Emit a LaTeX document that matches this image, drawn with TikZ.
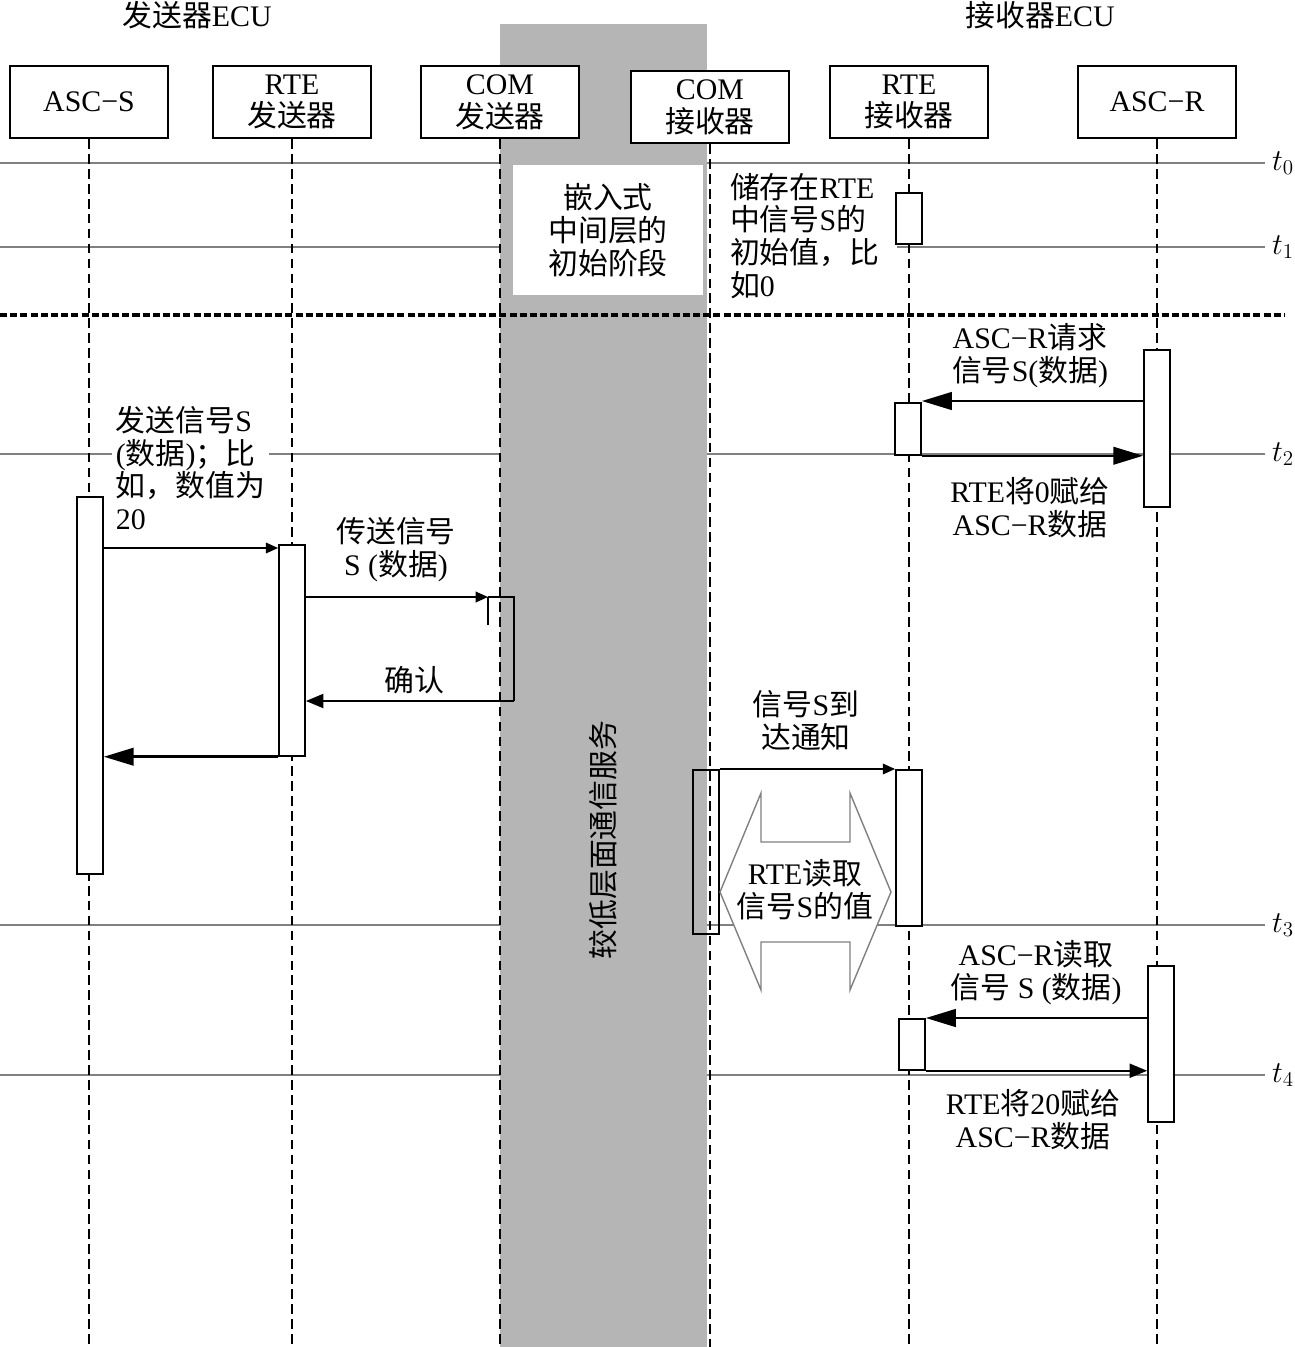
\documentclass[tikz,border=0pt]{standalone}
\usepackage{fontspec}
\setmainfont{Liberation Serif}
\newfontfamily\cjk{Noto Sans CJK SC}
\usetikzlibrary{arrows.meta}

\newcommand{\zh}[1]{{\cjk #1}}
\definecolor{bandgray}{gray}{0.71}
\definecolor{linegray}{gray}{0.5}

\begin{document}
\begin{tikzpicture}[x=0.02cm, y=-0.02cm,
  every node/.style={font=\fontsize{17}{18.7}\selectfont},
  head/.style={draw, line width=1.3pt, fill=white, minimum width=3.16cm,
    minimum height=1.44cm, align=center, inner sep=0pt},
  act/.style={draw, line width=1pt, fill=white, minimum width=0.52cm,
    anchor=north, inner sep=0pt},
  life/.style={line width=1.2pt, dash pattern=on 5.5pt off 3pt},
  tline/.style={linegray, line width=1.6pt},
  small/.style={line width=1pt, -{Triangle[length=7pt,width=6pt]}},
  mid/.style={line width=1.2pt, -{Triangle[length=10pt,width=8pt]}},
  big/.style={line width=1.4pt, -{Triangle[length=17pt,width=10pt]}},
  note/.style={align=center, inner sep=1pt}]
  \useasboundingbox (0,0) rectangle (1295,1347);

  % lower layer band
  \fill[bandgray] (500,24) rectangle (707,1347);
  \node[fill=white, minimum width=3.8cm, minimum height=2.62cm, align=center,
    inner sep=0pt] (initphase) at (608,230)
    {\zh{嵌入式}\\\zh{中间层的}\\\zh{初始阶段}};
  \node[rotate=90] (lowerlayer) at (603,840) {\zh{较低层面通信服务}};

  % time lines
  \foreach \y/\i/\x in {163/0/707, 247/1/897, 454/2/707, 925/3/707, 1075/4/707} {
    \draw[tline] (0,\y) -- (500,\y);
    \draw[tline] (\x,\y) -- (1265,\y);
    \node (t\i) at (1283,\y) {$t_\i$};
  }
  \draw[line width=2pt, dash pattern=on 4pt off 1.8pt] (0,315) -- (1285,315);

  % ECUs and lifelines
  \node (sendecu) at (197,15) {\zh{发送器}ECU};
  \node (recvecu) at (1040,15) {\zh{接收器}ECU};

  \node[head] (ascs) at (89,102) {ASC−S};
  \node[head] (rtes) at (292,102) {RTE\\\zh{发送器}};
  \node[head] (coms) at (500,102) {COM\\\zh{发送器}};
  \node[head] (comr) at (710,107) {COM\\\zh{接收器}};
  \node[head] (rter) at (909,102) {RTE\\\zh{接收器}};
  \node[head] (ascr) at (1157,102) {ASC−R};

  \foreach \n in {ascs,rtes,coms,comr,rter,ascr}
    \draw[life] (\n.south) -- (\n.south |- 0,1347);

  % activations
  \node[act, minimum height=7.54cm] (ascsact) at (90,496) {};
  \node[act, minimum height=4.22cm] (rtesact) at (292,544) {};
  \node[act, minimum height=1.02cm] (rterinit) at (909,192) {};
  \node[act, minimum height=1.04cm] (rterreq) at (908,402) {};
  \node[act, minimum height=3.14cm] (ascrreq) at (1157,349) {};
  \node[act, fill=none, minimum height=3.28cm] (comract) at (706,769) {};
  \node[act, minimum height=3.12cm] (rterread) at (909,769) {};
  \node[act, minimum height=3.12cm] (ascrread) at (1161,965) {};
  \node[act, minimum height=1.02cm] (rterget) at (912,1018) {};

  % initial value
  \node[align=left, anchor=west, inner sep=1pt] (initval) at (728,236)
    {\zh{储存在}RTE\\\zh{中信号}S\zh{的}\\\zh{初始值，比}\\\zh{如}0};

  % sender side
  \draw[small] (ascsact.east |- 0,548) -- (rtesact.west |- 0,548);
  \node[align=left, anchor=west, fill=white, inner sep=2pt] (sendlbl) at (112,468)
    {\zh{发送信号}S\\(\zh{数据})\zh{；比}\\\zh{如，数值为}\\20};

  \coordinate (comsin) at (514,597);
  \coordinate (comsout) at (514,701);
  \coordinate (comstick) at (488,597);
  \draw[small] (rtesact.east |- comsin) -- (comstick);
  \draw[line width=1pt] (comstick) -- ++(0,28);
  \draw[line width=1.2pt] (comstick) -- (comsin) -- (comsout);
  \draw[mid] (comsout) -- (rtesact.east |- comsout);
  \node[note] (translbl) at (396,550) {\zh{传送信号}\\S (\zh{数据})};
  \node[note] (acklbl) at (414,680) {\zh{确认}};

  \draw[big] (rtesact.south west) -- (ascsact.east |- rtesact.south);

  % receiver side, first request
  \draw[big] (ascrreq.west |- 0,401) -- (rterreq.east |- 0,401);
  \draw[big] (rterreq.south east) -- (ascrreq.west |- rterreq.south);
  \node[note] (reqlbl) at (1030,356) {ASC−R\zh{请求}\\\zh{信号}S(\zh{数据})};
  \node[note] (zerolbl) at (1030,508) {RTE\zh{将}0\zh{赋给}\\ASC−R\zh{数据}};

  % signal arrives
  \draw[small] (comract.north east) -- (rterread.north west);
  \node[note] (arrlbl) at (806,721) {\zh{信号}S\zh{到}\\\zh{达通知}};
  \draw[gray, line width=0.8pt, fill=white]
    (720,892) -- (761,793) -- (761,842) -- (850,842) -- (850,793) -- (891,892)
    -- (850,990) -- (850,942) -- (761,942) -- (761,990) -- cycle;
  \node[note] (readlbl) at (805,890) {RTE\zh{读取}\\\zh{信号}S\zh{的值}};

  % receiver side, second request
  \draw[big] (ascrread.west |- 0,1018) -- (rterget.north east);
  \draw[mid] (rterget.south east) -- (ascrread.west |- rterget.south);
  \node[note] (readreq) at (1036,973) {ASC−R\zh{读取}\\\zh{信号} S (\zh{数据})};
  \node[note] (twentylbl) at (1033,1120) {RTE\zh{将}20\zh{赋给}\\ASC−R\zh{数据}};
\end{tikzpicture}
\end{document}
